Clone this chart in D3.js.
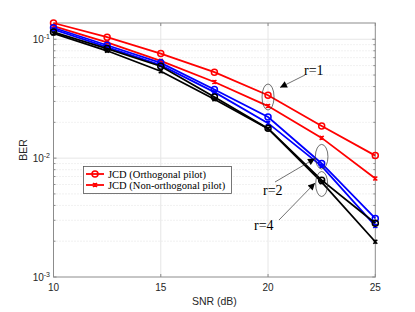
<!DOCTYPE html>
<html>
<head>
<meta charset="utf-8">
<script src="https://cdn.jsdelivr.net/npm/d3@7"></script>
<style>
  html, body { margin: 0; padding: 0; background: #fff; }
  svg { display: block; }
</style>
</head>
<body>
<div id="chart"></div>
<script>
// SNR points (dB)
const snr = [10, 12.5, 15, 17.5, 20, 22.5, 25]

// BER
const r1Orth    = [0.137, 0.104, 0.0758, 0.0529, 0.0338, 0.0186, 0.0105]
const r1NonOrth = [0.129, 0.094, 0.0658, 0.0437, 0.0274, 0.0148, 0.00675]
const r2Orth    = [0.125, 0.089, 0.0633, 0.0378, 0.0222, 0.00902, 0.00311]
const r2NonOrth = [0.121, 0.0857, 0.0605, 0.0359, 0.0197, 0.00857, 0.00269]
const r4Orth    = [0.115, 0.0835, 0.0593, 0.0327, 0.0178, 0.00653, 0.00283]
const r4NonOrth = [0.112, 0.080, 0.0538, 0.0313, 0.0177, 0.00628, 0.00198]

const xTicks = [10, 15, 20, 25]
const yTicks = [1e-3, 1e-2, 1e-1]
const legendLabels = ['JCD (Orthogonal pilot)', 'JCD (Non-orthogonal pilot)']

const series = [
  { vals: r1Orth,    color: '#ff0000', mark: 'o' },
  { vals: r1NonOrth, color: '#ff0000', mark: 'x' },
  { vals: r2Orth,    color: '#0000ff', mark: 'o' },
  { vals: r2NonOrth, color: '#0000ff', mark: 'x' },
  { vals: r4Orth,    color: '#000000', mark: 'o' },
  { vals: r4NonOrth, color: '#000000', mark: 'x' }
]

const W = 415, H = 312
const L = 53.5, R = 375.3, T = 23, B = 277

const svg = d3.select('#chart').append('svg')
  .attr('width', W).attr('height', H)

const x = d3.scaleLinear().domain([10, 25]).range([L, R])
const y = d3.scaleLog().domain([1e-3, 0.137]).range([B, T])

// minor log values
const minor = []
for (let e = -3; e <= -1; e++) {
  for (let m = 2; m <= 9; m++) {
    const v = m * Math.pow(10, e)
    if (v <= 0.137) minor.push(v)
  }
}

const grid = svg.append('g')
grid.selectAll('.minor').data(minor).enter().append('line')
  .attr('x1', L).attr('x2', R)
  .attr('y1', d => y(d)).attr('y2', d => y(d))
  .style('stroke', '#dcdcdc').style('stroke-width', 0.8)
  .style('stroke-dasharray', '1,2')
grid.selectAll('.major').data(yTicks.slice(1)).enter().append('line')
  .attr('x1', L).attr('x2', R)
  .attr('y1', d => y(d)).attr('y2', d => y(d))
  .style('stroke', '#e6e6e6').style('stroke-width', 1)
grid.selectAll('.xg').data(xTicks.slice(1, -1)).enter().append('line')
  .attr('x1', d => x(d)).attr('x2', d => x(d))
  .attr('y1', T).attr('y2', B)
  .style('stroke', '#e6e6e6').style('stroke-width', 1)

// axes box + ticks
const ax = svg.append('g').style('stroke', '#8c8c8c').style('stroke-width', 1)
ax.append('rect').attr('x', L).attr('y', T).attr('width', R - L).attr('height', B - T)
  .style('fill', 'none')
xTicks.forEach(t => {
  ax.append('line').attr('x1', x(t)).attr('x2', x(t)).attr('y1', B).attr('y2', B - 3)
  ax.append('line').attr('x1', x(t)).attr('x2', x(t)).attr('y1', T).attr('y2', T + 3)
})
yTicks.concat(minor).forEach(v => {
  const len = yTicks.includes(v) ? 3 : 2
  ax.append('line').attr('x1', L).attr('x2', L + len).attr('y1', y(v)).attr('y2', y(v))
  ax.append('line').attr('x1', R).attr('x2', R - len).attr('y1', y(v)).attr('y2', y(v))
})

const sans = 'Liberation Sans, Arial, sans-serif'
const serif = 'Liberation Serif, Times New Roman, serif'

svg.append('g').selectAll('text').data(xTicks).enter().append('text')
  .attr('x', d => x(d)).attr('y', 291)
  .attr('text-anchor', 'middle')
  .style('font-family', sans).style('font-size', '10px').style('fill', '#262626')
  .text(d => d)

const yl = svg.append('g').selectAll('text').data(yTicks).enter().append('text')
  .attr('x', 50).attr('y', d => y(d) + 4)
  .attr('text-anchor', 'end')
  .style('font-family', sans).style('font-size', '10px').style('fill', '#262626')
yl.append('tspan').text('10')
yl.append('tspan').attr('dy', -4).style('font-size', '7px')
  .text(d => '-' + Math.round(-Math.log10(d)))

svg.append('text').attr('x', (L + R) / 2).attr('y', 305)
  .attr('text-anchor', 'middle')
  .style('font-family', sans).style('font-size', '10.5px').style('fill', '#262626')
  .text('SNR (dB)')
svg.append('text')
  .attr('transform', `translate(27,${(T + B) / 2}) rotate(-90)`)
  .attr('text-anchor', 'middle')
  .style('font-family', sans).style('font-size', '10.5px').style('fill', '#262626')
  .text('BER')

// lines
const line = d3.line().x((d, i) => x(snr[i])).y(d => y(d))

function drawMark(g, mark, color, cx, cy) {
  if (mark === 'o') {
    g.append('circle').attr('cx', cx).attr('cy', cy).attr('r', 3)
      .style('fill', 'none').style('stroke', color).style('stroke-width', 1.5)
  } else {
    const s = 2
    g.append('path')
      .attr('d', `M${cx - s},${cy - s}L${cx + s},${cy + s}M${cx - s},${cy + s}L${cx + s},${cy - s}M${cx},${cy - s}L${cx},${cy + s}`)
      .style('stroke', color).style('stroke-width', 1.5)
  }
}

const plot = svg.append('g')
series.forEach(s => {
  plot.append('path').datum(s.vals).attr('d', line)
    .style('fill', 'none').style('stroke', s.color).style('stroke-width', 1.8)
  const mg = plot.append('g')
  s.vals.forEach((v, i) => drawMark(mg, s.mark, s.color, x(snr[i]), y(v)))
})

// annotations
const ann = svg.append('g')
svg.append('defs').append('marker')
  .attr('id', 'arr').attr('viewBox', '0 0 10 10').attr('refX', 10).attr('refY', 5)
  .attr('markerWidth', 9).attr('markerHeight', 7).attr('orient', 'auto')
  .attr('markerUnits', 'userSpaceOnUse')
  .append('path').attr('d', 'M0,0L10,5L0,10z').style('fill', '#000')

const ellipses = [
  { x: 20, v: 0.0305, rx: 6, ry: 13 },
  { x: 22.5, v: 0.0083, rx: 6.3, ry: 12.3 },
  { x: 22.5, v: 0.0065, rx: 6, ry: 12.5 }
]
ann.selectAll('ellipse').data(ellipses).enter().append('ellipse')
  .attr('cx', d => x(d.x)).attr('cy', (d, i) => [97, 156.7, 184][i])
  .attr('rx', d => d.rx).attr('ry', d => d.ry)
  .style('fill', 'none').style('stroke', '#333').style('stroke-width', 0.7)

const arrows = [[305, 75, 280, 87.5], [275, 182, 315, 158.5], [279, 220, 315, 183]]
arrows.forEach(a => {
  ann.append('line').attr('x1', a[0]).attr('y1', a[1]).attr('x2', a[2]).attr('y2', a[3])
    .style('stroke', '#333').style('stroke-width', 0.7).attr('marker-end', 'url(#arr)')
})
const labels = [['r=1', 304, 75], ['r=2', 263, 195], ['r=4', 254, 230]]
labels.forEach(l => {
  ann.append('text').attr('x', l[1]).attr('y', l[2])
    .style('font-family', serif).style('font-size', '14px').style('fill', '#000')
    .text(l[0])
})

// legend
const lg = svg.append('g')
lg.append('rect').attr('x', 83.5).attr('y', 166.5).attr('width', 148).attr('height', 27)
  .style('fill', '#fff').style('stroke', '#555').style('stroke-width', 0.8)
legendLabels.forEach((t, i) => {
  const ly = 174 + i * 11
  lg.append('line').attr('x1', 86).attr('x2', 104).attr('y1', ly).attr('y2', ly)
    .style('stroke', '#ff0000').style('stroke-width', 1.8)
  drawMark(lg, i === 0 ? 'o' : 'x', '#ff0000', 95, ly)
  lg.append('text').attr('x', 108).attr('y', ly + 3.5)
    .style('font-family', serif).style('font-size', '10.5px').style('fill', '#000')
    .text(t)
})
</script>
</body>
</html>
